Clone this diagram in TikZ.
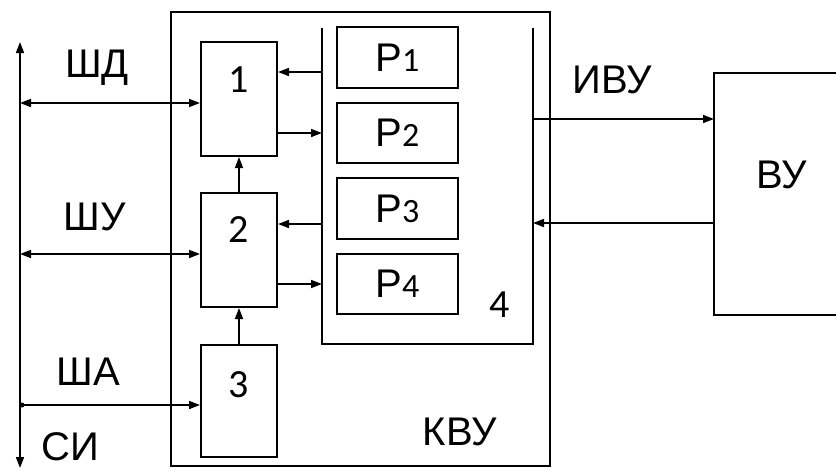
\documentclass[tikz,border=0pt]{standalone}
\usepackage{fontspec}
\setmainfont{Liberation Sans}
\newfontfamily\digitfont{Carlito}[Numbers=Lining]
\newcommand{\dg}[1]{{\digitfont\fontsize{34}{38}\selectfont #1}}
\newcommand{\bdg}[1]{{\digitfont\fontsize{40}{44}\selectfont #1}}
\usetikzlibrary{arrows.meta}
\begin{document}
\begin{tikzpicture}[x=1pt,y=-1pt,line width=1.6pt,
  font=\fontsize{40}{44}\selectfont,
  >={Triangle[length=11pt,width=8pt]},
  box/.style={draw,line width=2pt,inner sep=0pt},
  lbl/.style={inner sep=0pt,anchor=center}]
\useasboundingbox (0,0) rectangle (836,472);
% outer KVU
\node[box,minimum width=379pt,minimum height=454pt] (kvu) at (360.5,239) {};
% blocks 1,2,3
\node[box,minimum width=76pt,minimum height=114pt] (b1) at (239,99) {};
\node[box,minimum width=76pt,minimum height=114pt] (b2) at (239,250) {};
\node[box,minimum width=76pt,minimum height=112pt] (b3) at (239,401) {};
\node[lbl] (t1) at (239,80) {\bdg{1}};
\node[lbl] (t2) at (239,230) {\bdg{2}};
\node[lbl] (t3) at (239,385) {\bdg{3}};
% block 4 (U shape)
\coordinate (f4tl) at (322,28);
\coordinate (f4bl) at (322,344);
\coordinate (f4br) at (533,344);
\coordinate (f4tr) at (533,28);
\draw[line width=2pt] (f4tl) -- (f4bl) -- (f4br) -- (f4tr);
\node[lbl] (t4) at (500,305) {\bdg{4}};
% registers
\node[box,minimum width=121pt,minimum height=61pt] (r1) at (397.5,57.5) {Р\dg{1}};
\node[box,minimum width=121pt,minimum height=60pt] (r2) at (397.5,133) {Р\dg{2}};
\node[box,minimum width=121pt,minimum height=61pt] (r3) at (397.5,208.5) {Р\dg{3}};
\node[box,minimum width=121pt,minimum height=60pt] (r4) at (397.5,284) {Р\dg{4}};
% arrows between 1,2,3 and 4
\coordinate (a1) at (322,72);
\coordinate (a2) at (322,133);
\coordinate (a3) at (322,224);
\coordinate (a4) at (322,284);
\draw[->] (a1) -- (a1 -| b1.east);
\draw[->] (a2 -| b1.east) -- (a2);
\draw[->] (a3) -- (a3 -| b2.east);
\draw[->] (a4 -| b2.east) -- (a4);
\draw[->] (b2.north) -- (b1.south);
\draw[->] (b3.north) -- (b2.south);
% bus
\coordinate (busT) at (20,42);
\coordinate (busB) at (20,468);
\draw[<->] (busB) -- (busT);
\coordinate (sd) at (20,103);
\coordinate (su) at (20,254);
\coordinate (sa) at (22,405);
\draw[<->] (sd) -- (sd -| b1.west);
\draw[<->] (su) -- (su -| b2.west);
\fill (sa) circle (2.5pt);
\draw[->] (sa) -- (sa -| b3.west);
\node[lbl] (lsd) at (97,68) {ШД};
\node[lbl] (lsu) at (95,217) {ШУ};
\node[lbl] (lsa) at (88,372) {ША};
\node[lbl] (lsi) at (70,447) {СИ};
\node[lbl] (lkvu) at (460,432) {КВУ};
% VU
\coordinate (vtr) at (836,73);
\coordinate (vtl) at (714,73);
\coordinate (vbl) at (714,315);
\coordinate (vbr) at (836,315);
\draw[line width=2pt] (vtr) -- (vtl) -- (vbl) -- (vbr);
\node[lbl] (lvu) at (782,175) {ВУ};
\coordinate (i1) at (533,119);
\coordinate (i2) at (533,223);
\draw[->] (i1) -- (i1 -| vtl);
\draw[->] (i2 -| vtl) -- (i2);
\node[lbl] (livu) at (612,80) {ИВУ};
\end{tikzpicture}
\end{document}
